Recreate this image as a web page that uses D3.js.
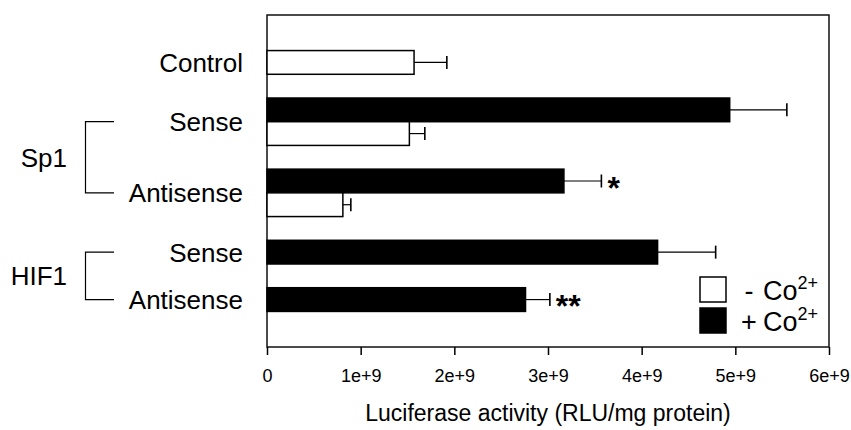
<!DOCTYPE html>
<html>
<head>
<meta charset="utf-8">
<script src="https://cdn.jsdelivr.net/npm/d3@7"></script>
<style>
  html, body { margin: 0; padding: 0; background: #fff; }
  svg { display: block; }
  text { font-family: "Liberation Sans", Arial, Helvetica, sans-serif; fill: #000; }
</style>
</head>
<body>
<svg id="chart" width="851" height="430"></svg>
<script>
// ---- data ----
const groupIds    = ["Control", "Sp1 Sense", "Sp1 Antisense", "HIF1 Sense", "HIF1 Antisense"];
const groupLabels = ["Control", "Sense", "Antisense", "Sense", "Antisense"];
const minusCo     = [1.57e9, 1.52e9, 0.81e9, null, null];   // - Co2+ (white)
const minusCoErr  = [0.35e9, 0.165e9, 0.085e9, null, null];
const plusCo      = [null, 4.94e9, 3.17e9, 4.17e9, 2.76e9]; // + Co2+ (black)
const plusCoErr   = [null, 0.61e9, 0.40e9, 0.62e9, 0.26e9];
const plusSignif  = ["", "", "*", "", "**"];
const familyNames   = ["Sp1", "HIF1"];
const familyMembers = [["Sp1 Sense", "Sp1 Antisense"], ["HIF1 Sense", "HIF1 Antisense"]];
const xTickValues = [0, 1e9, 2e9, 3e9, 4e9, 5e9, 6e9];
const xTickLabels = ["0", "1e+9", "2e+9", "3e+9", "4e+9", "5e+9", "6e+9"];
const xTitle = "Luciferase activity (RLU/mg protein)";
const legendSigns = ["-", "+"];

// ---- layout ----
const svg = d3.select("#chart");
const L = 267, R = 829, T = 15, B = 347;

// rows: one slot per bar, a gap slot between groups
const rows = [];
groupIds.forEach((g, i) => {
  if (i > 0) rows.push({ key: "gap" + i, gap: true });
  if (plusCo[i] != null) rows.push({ key: g + "|plus", gi: i, series: "plus", v: plusCo[i], e: plusCoErr[i], s: plusSignif[i] });
  if (minusCo[i] != null) rows.push({ key: g + "|minus", gi: i, series: "minus", v: minusCo[i], e: minusCoErr[i], s: "" });
});

const x = d3.scaleLinear().domain([0, 6e9]).range([L, R]);
const y = d3.scaleBand().domain(rows.map(r => r.key)).range([T, B])
  .paddingInner(0).paddingOuter(1.5).align(0.5);
const bw = y.bandwidth();
const bars = rows.filter(r => !r.gap);

// frame
svg.append("rect").attr("x", L).attr("y", T).attr("width", R - L).attr("height", B - T)
  .attr("fill", "none").attr("stroke", "#111").attr("stroke-width", 1.5);

// bars
svg.append("g").selectAll("rect").data(bars).join("rect")
  .attr("x", x(0))
  .attr("y", d => y(d.key))
  .attr("width", d => x(d.v) - x(0))
  .attr("height", bw)
  .attr("fill", d => d.series === "plus" ? "#000" : "#fff")
  .attr("stroke", "#000").attr("stroke-width", 1.5);

// error bars
const eg = svg.append("g").attr("stroke", "#000").attr("stroke-width", 1.2);
eg.selectAll("line.h").data(bars).join("line").attr("class", "h")
  .attr("x1", d => x(d.v)).attr("x2", d => x(d.v + d.e))
  .attr("y1", d => y(d.key) + bw / 2).attr("y2", d => y(d.key) + bw / 2);
eg.selectAll("line.c").data(bars).join("line").attr("class", "c")
  .attr("stroke-width", 1.6)
  .attr("x1", d => x(d.v + d.e)).attr("x2", d => x(d.v + d.e))
  .attr("y1", d => y(d.key) + bw / 2 - 6.5).attr("y2", d => y(d.key) + bw / 2 + 6.5);

// significance stars
svg.append("g").selectAll("text").data(bars.filter(d => d.s)).join("text")
  .attr("x", d => x(d.v + d.e) + 6)
  .attr("y", d => y(d.key) + bw / 2)
  .attr("dy", "0.56em")
  .attr("font-size", 32).attr("font-weight", "bold")
  .text(d => d.s);

// x axis
const xAxis = d3.axisBottom(x).tickValues(xTickValues)
  .tickFormat((d, i) => xTickLabels[i]).tickSize(8).tickPadding(14);
const ga = svg.append("g").attr("transform", `translate(0,${B})`).call(xAxis)
  .attr("font-size", 18).attr("font-family", "Liberation Sans, Arial, sans-serif");
ga.select(".domain").remove();
ga.selectAll(".tick line").attr("stroke", "#000").attr("stroke-width", 1.5);
ga.selectAll(".tick text").style("font-size", "18px").attr("fill", "#000");

svg.append("text").attr("x", (L + R) / 2).attr("y", 421)
  .attr("text-anchor", "middle").style("font-size", "23px").text(xTitle);

// group labels
const groupY = groupIds.map(g => {
  const rs = bars.filter(r => groupIds[r.gi] === g);
  return d3.mean(rs, r => y(r.key) + bw / 2);
});
svg.append("g").selectAll("text").data(groupIds).join("text")
  .attr("x", 243).attr("y", (d, i) => groupY[i]).attr("dy", "0.36em")
  .attr("text-anchor", "end").style("font-size", "26px")
  .text((d, i) => groupLabels[i]);

// family brackets
familyNames.forEach((f, k) => {
  const ys = familyMembers[k].map(m => groupY[groupIds.indexOf(m)]);
  const y0 = d3.min(ys), y1 = d3.max(ys);
  svg.append("path")
    .attr("d", `M114,${y0}H85.5V${y1}H114`)
    .attr("fill", "none").attr("stroke", "#000").attr("stroke-width", 1.2);
  svg.append("text").attr("x", 67).attr("y", (y0 + y1) / 2).attr("dy", "0.36em")
    .attr("text-anchor", "end").style("font-size", "26px").text(f);
});

// legend
const leg = svg.append("g");
["minus", "plus"].forEach((s, i) => {
  const yy = 277 + i * 31;
  leg.append("rect").attr("x", 700).attr("y", yy).attr("width", 26).attr("height", 25)
    .attr("fill", s === "plus" ? "#000" : "#fff").attr("stroke", "#000").attr("stroke-width", 1.5);
  leg.append("text").attr("x", 749).attr("y", yy + 23).attr("text-anchor", "middle")
    .style("font-size", "27px").text(legendSigns[i]);
  const t = leg.append("text").attr("x", 763).attr("y", yy + 23).style("font-size", "27px");
  t.append("tspan").text("Co");
  t.append("tspan").attr("dy", -11).style("font-size", "18px").text("2+");
});
</script>
</body>
</html>
